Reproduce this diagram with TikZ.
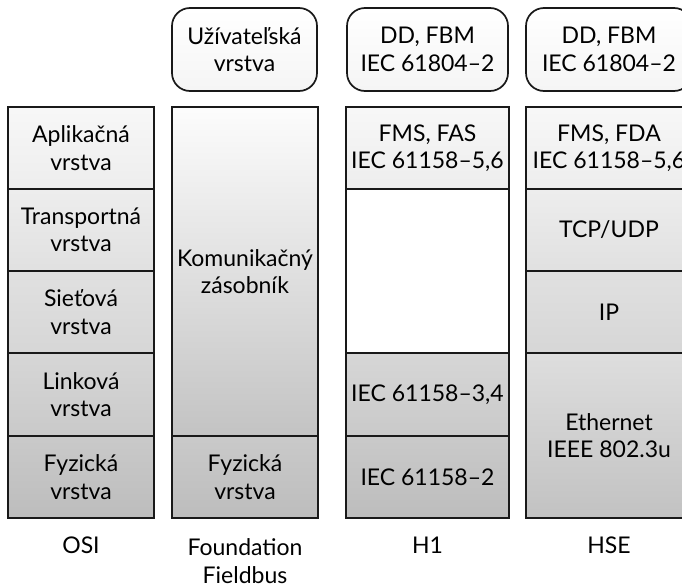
\documentclass[tikz,border=0pt]{standalone}
\usepackage{fontspec}
\setmainfont{Lato}
\begin{document}
\begin{tikzpicture}[x=1pt,y=-1pt,
  every node/.style={font=\fontsize{23}{27.5}\selectfont, align=center, inner sep=0pt},
  lay/.style 2 args={draw=black!90, line width=1.7pt, top color=black!#1, bottom color=black!#2},
  top/.style={draw=black!90, line width=1.7pt, rounded corners=18pt, top color=white, bottom color=black!4},
  lbl/.style={anchor=base}]
\path[use as bounding box, clip] (0,0) rectangle (682,584);
% OSI
\node[lay={3}{7}, minimum width=146pt, minimum height=82pt] (osi7) at (81,148) {Aplikačná\\vrstva};
\node[lay={7}{12}, minimum width=146pt, minimum height=82pt] (osi4) at (81,230) {Transportná\\vrstva};
\node[lay={12}{16}, minimum width=146pt, minimum height=82pt] (osi3) at (81,312) {Sieťová\\vrstva};
\node[lay={16}{21}, minimum width=146pt, minimum height=83pt] (osi2) at (81,394.5) {Linková\\vrstva};
\node[lay={21}{26}, minimum width=146pt, minimum height=82pt] (osi1) at (81,477) {Fyzická\\vrstva};
% Foundation Fieldbus
\node[top, minimum width=145pt, minimum height=83pt] (ffu) at (244.5,49.5) {Užívateľská\\vrstva};
\node[lay={1}{23.5}, minimum width=146pt, minimum height=329pt] (ffk) at (245,271.5) {Komunikačný\\zásobník};
\node[lay={21}{26}, minimum width=146pt, minimum height=82pt] (fff) at (245,477) {Fyzická\\vrstva};
% H1
\node[top, minimum width=161pt, minimum height=83pt] (h1u) at (427.5,49.5) {DD, FBM\\IEC 61804–2};
\node[lay={3}{7}, minimum width=163pt, minimum height=82pt] (h1a) at (427.5,148) {FMS, FAS\\IEC 61158–5,6};
\node[draw=black!90, line width=1.7pt, fill=white, minimum width=163pt, minimum height=164pt] (h1e) at (427.5,271) {};
\node[lay={16}{21}, minimum width=163pt, minimum height=83pt] (h1l) at (427.5,394.5) {IEC 61158–3,4};
\node[lay={21}{26}, minimum width=163pt, minimum height=82pt] (h1p) at (427.5,477) {IEC 61158–2};
% HSE
\node[top, minimum width=166pt, minimum height=83pt] (hseu) at (609,49.5) {DD, FBM\\IEC 61804–2};
\node[lay={3}{7}, minimum width=166pt, minimum height=82pt] (hsea) at (609,148) {FMS, FDA\\IEC 61158–5,6};
\node[lay={7}{12}, minimum width=166pt, minimum height=82pt] (hset) at (609,230) {TCP/UDP};
\node[lay={12}{16}, minimum width=166pt, minimum height=82pt] (hsei) at (609,312) {IP};
\node[lay={13}{24}, minimum width=166pt, minimum height=165pt] (hsee) at (609,435.5) {Ethernet\\IEEE 802.3u};
% labels
\node[lbl] (losi) at (81,553) {OSI};
\node[lbl] (lff) at (245,583) {Foundation\\Fieldbus};
\node[lbl] (lh1) at (427.5,553) {H1};
\node[lbl] (lhse) at (609,553) {HSE};
\end{tikzpicture}
\end{document}
